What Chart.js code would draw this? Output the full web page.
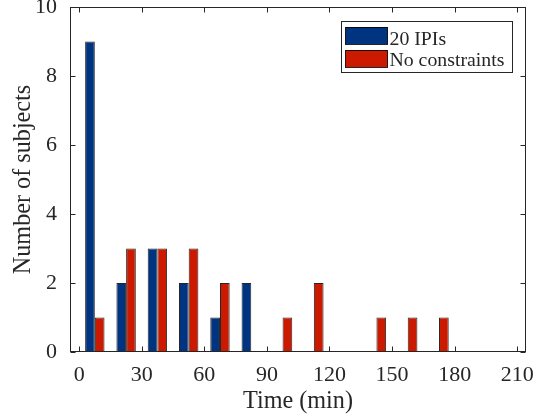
<!DOCTYPE html>
<html>
<head>
<meta charset="utf-8">
<script src="https://cdn.jsdelivr.net/npm/chart.js@4/dist/chart.umd.min.js"></script>
<style>
  html, body { margin: 0; padding: 0; background: #fff; }
  #wrap { width: 549px; height: 419px; position: relative; }
</style>
</head>
<body>
<div id="wrap"><canvas id="c" width="549" height="419"></canvas></div>
<script>
// Bin centres (min), 15-min bins
const binCenters = [7.5, 22.5, 37.5, 52.5, 67.5, 82.5, 97.5, 112.5, 127.5, 142.5, 157.5, 172.5, 187.5, 202.5];
const ipi20 = [9, 2, 3, 2, 1, 2, 0, 0, 0, 0, 0, 0, 0, 0];
const noConstraints = [1, 3, 3, 3, 2, 0, 1, 2, 0, 1, 1, 1, 0, 0];
const seriesLabels = ['20 IPIs', 'No constraints'];
const xTicks = [0, 30, 60, 90, 120, 150, 180, 210];
const yTicks = [0, 2, 4, 6, 8, 10];

const BLUE = '#003380';
const RED = '#CC1A00';
const AXIS = '#262626';
const FONT = "'Liberation Serif', 'Times New Roman', serif";

function pts(vals) { return binCenters.map((x, i) => ({ x: x, y: vals[i] })); }

const boxTicks = {
  id: 'boxTicks',
  afterDatasetsDraw(chart) {
    const { ctx, chartArea: a, scales: { x, y } } = chart;
    ctx.save();
    ctx.strokeStyle = AXIS;
    ctx.lineWidth = 1;
    const L = Math.round(a.left) + 0.5, R = Math.round(a.right) - 0.5;
    const T = Math.round(a.top) + 0.5, B = Math.round(a.bottom) - 0.5;
    ctx.strokeRect(L, T, R - L, B - T);
    const tl = 5;
    ctx.beginPath();
    x.ticks.forEach(t => {
      const px = Math.round(x.getPixelForValue(t.value)) + 0.5;
      ctx.moveTo(px, B); ctx.lineTo(px, B - tl);
      ctx.moveTo(px, T); ctx.lineTo(px, T + tl);
    });
    y.ticks.forEach(t => {
      const py = Math.round(y.getPixelForValue(t.value)) + 0.5;
      ctx.moveTo(L, py); ctx.lineTo(L + tl, py);
      ctx.moveTo(R, py); ctx.lineTo(R - tl, py);
    });
    ctx.stroke();
    ctx.restore();
  },
  afterDraw(chart) {
    // legend box (top-right, inside axes)
    const { ctx } = chart;
    const ds = chart.data.datasets;
    ctx.save();
    const bx = 341.5, by = 21.5, bw = 171, bh = 51;
    ctx.fillStyle = '#fff';
    ctx.fillRect(bx, by, bw, bh);
    ctx.strokeStyle = AXIS;
    ctx.lineWidth = 1;
    ctx.strokeRect(bx, by, bw, bh);
    ctx.font = '19.8px ' + FONT;
    ctx.textBaseline = 'alphabetic';
    ctx.textAlign = 'left';
    const rows = [{ top: 27, base: 44.5 }, { top: 50, base: 66.3 }];
    ds.forEach((d, i) => {
      const r = rows[i];
      ctx.fillStyle = d.backgroundColor;
      ctx.fillRect(345.5, r.top, 42, 17);
      ctx.strokeStyle = 'rgba(0,0,0,0.85)';
      ctx.strokeRect(345.5, r.top + 0.5, 42, 17);
      ctx.fillStyle = AXIS;
      ctx.fillText(d.label, 389.5, r.base);
    });
    ctx.restore();
  }
};

new Chart(document.getElementById('c'), {
  type: 'bar',
  data: {
    datasets: [
      { label: seriesLabels[0], data: pts(ipi20), backgroundColor: BLUE },
      { label: seriesLabels[1], data: pts(noConstraints), backgroundColor: RED }
    ]
  },
  options: {
    responsive: false,
    animation: false,
    devicePixelRatio: 1,
    layout: { padding: { top: 7, right: 23, left: 0, bottom: 0 } },
    datasets: {
      bar: {
        categoryPercentage: 0.62,
        barPercentage: 1,
        borderColor: 'rgba(0,0,0,0.85)',
        borderWidth: c => (c.raw && c.raw.y === 0) ? 0 : 1,
        borderSkipped: false
      }
    },
    plugins: {
      legend: { display: false },
      tooltip: { enabled: false }
    },
    scales: {
      x: {
        type: 'linear',
        offset: false,
        min: -4.4,
        max: 214.2,
        afterBuildTicks: s => { s.ticks = xTicks.map(v => ({ value: v })); },
        afterFit: s => { s.height = 67; s.paddingLeft = 0; s.paddingRight = 0; },
        grid: { display: false, offset: false },
        border: { display: false },
        ticks: { color: AXIS, font: { family: FONT, size: 22 }, padding: 2, maxRotation: 0, autoSkip: false },
        title: { display: true, text: 'Time (min)', color: AXIS, font: { family: FONT, size: 24.2 }, padding: { top: 0, bottom: 2.5 } }
      },
      y: {
        type: 'linear',
        min: 0,
        max: 10,
        afterBuildTicks: s => { s.ticks = yTicks.map(v => ({ value: v })); },
        afterFit: s => { s.width = 70; s.paddingTop = 0; s.paddingBottom = 0; },
        grid: { display: false },
        border: { display: false },
        ticks: { color: AXIS, font: { family: FONT, size: 22 }, padding: 5 },
        title: { display: true, text: 'Number of subjects', color: AXIS, font: { family: FONT, size: 24.2 }, padding: { top: 9.5, bottom: 0 } }
      }
    }
  },
  plugins: [boxTicks]
});
</script>
</body>
</html>
